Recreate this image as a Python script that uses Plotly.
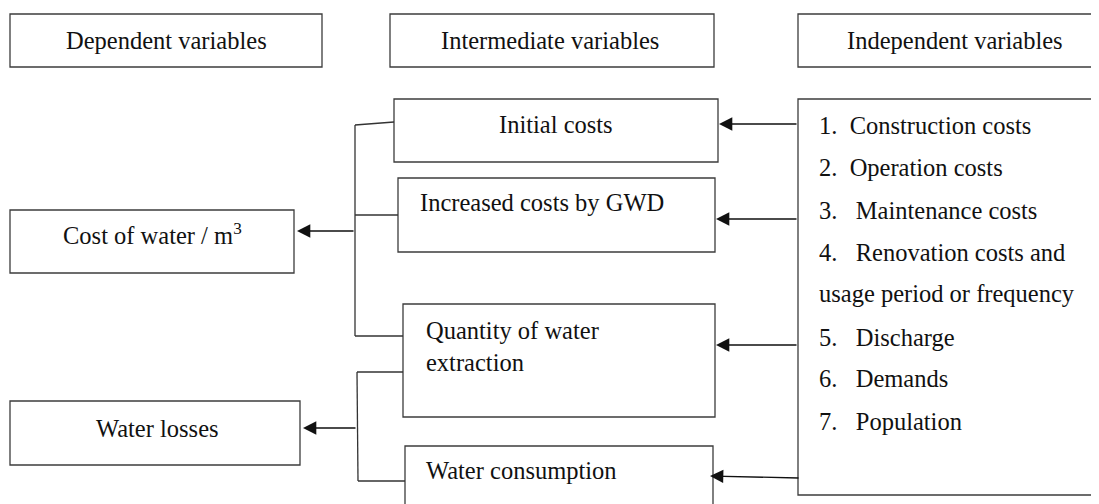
import plotly.graph_objects as go

# ---- content (text) ----
header_labels = ["Dependent variables", "Intermediate variables", "Independent variables"]
dependent_labels = ["Cost of water / m<sup>3</sup>", "Water losses"]
intermediate_labels = ["Initial costs", "Increased costs by GWD",
                       "Quantity of water<br>extraction", "Water consumption"]
independent_items = ["1.  Construction costs", "2.  Operation costs", "3.   Maintenance costs",
                     "4.   Renovation costs and", "usage period or frequency",
                     "5.   Discharge", "6.   Demands", "7.   Population"]

# ---- layout geometry (pixels, y downward) ----
W, H = 1099, 504
OFF = 8  # default page body margin
header_boxes = [(10, 14, 322, 67), (390, 14, 714, 67), (798, 14, 1093, 67)]
header_text_pos = [(166, 40), (550, 40), (955, 40)]
dep_boxes = [(10, 210, 294, 273), (10, 401, 300, 465)]
dep_text_pos = [(152, 234), (157, 428)]
int_boxes = [(394, 99, 718, 162), (398, 178, 715, 252), (403, 304, 715, 417), (405, 446, 713, 520)]
int_text = [(556, 124, "center"), (418, 202, "left"), (424, 346, "left"), (424, 470, "left")]
ind_box = (798, 99, 1105, 495)
ind_text_x = [817] * 8
ind_text_y = [125, 167, 210, 252, 293, 337, 378, 421]

connector_lines = [
    (355, 125, 394, 122), (355, 125, 355, 336), (355, 215, 398, 215), (355, 336, 403, 336),
    (357, 372, 358, 481), (357, 372, 403, 372), (358, 481, 405, 481),
]
arrows = [  # tail -> tip
    (355, 231, 297, 231), (357, 428, 303, 428),
    (798, 124, 719, 124), (798, 219, 716, 219), (798, 345, 716, 345), (800, 478, 710, 476),
]

FONT = "Times New Roman, Liberation Serif, serif"
FS = 24.5
BOX_COLOR = "#3c3c3c"

fig = go.Figure()
shapes = []
annotations = []

def box(b):
    shapes.append(dict(type="rect", xref="x", yref="y", x0=b[0], y0=b[1], x1=b[2], y1=b[3],
                       line=dict(color=BOX_COLOR, width=1.3), fillcolor="rgba(0,0,0,0)"))

for b in header_boxes + dep_boxes + int_boxes + [ind_box]:
    box(b)

for (x0, y0, x1, y1) in connector_lines:
    shapes.append(dict(type="line", xref="x", yref="y", x0=x0, y0=y0, x1=x1, y1=y1,
                       line=dict(color="#333333", width=1.3)))

def text(x, y, s, anchor="center"):
    annotations.append(dict(x=x, y=y, xref="x", yref="y", text=s, showarrow=False,
                            xanchor=anchor, yanchor="middle", align="left",
                            font=dict(family=FONT, size=FS, color="#111111")))

for (x, y), s in zip(header_text_pos, header_labels):
    text(x, y, s)
for (x, y), s in zip(dep_text_pos, dependent_labels):
    text(x, y, s)
for (x, y, a), s in zip(int_text, intermediate_labels):
    text(x, y, s, a)
for x, y, s in zip(ind_text_x, ind_text_y, independent_items):
    text(x, y, s, "left")

for (tx, ty, hx, hy) in arrows:
    annotations.append(dict(x=hx, y=hy, ax=tx, ay=ty, xref="x", yref="y", axref="x", ayref="y",
                            text="", showarrow=True, arrowhead=2, arrowsize=1.9, arrowwidth=1.4,
                            arrowcolor="#111111", standoff=0, startstandoff=0))

fig.update_layout(
    width=W - OFF, height=H - OFF, margin=dict(l=0, r=0, t=0, b=0),
    paper_bgcolor="white", plot_bgcolor="white",
    xaxis=dict(range=[OFF, W], visible=False, fixedrange=True),
    yaxis=dict(range=[H, OFF], visible=False, fixedrange=True),
    shapes=shapes, annotations=annotations, showlegend=False,
)
fig.write_html("out.html")
